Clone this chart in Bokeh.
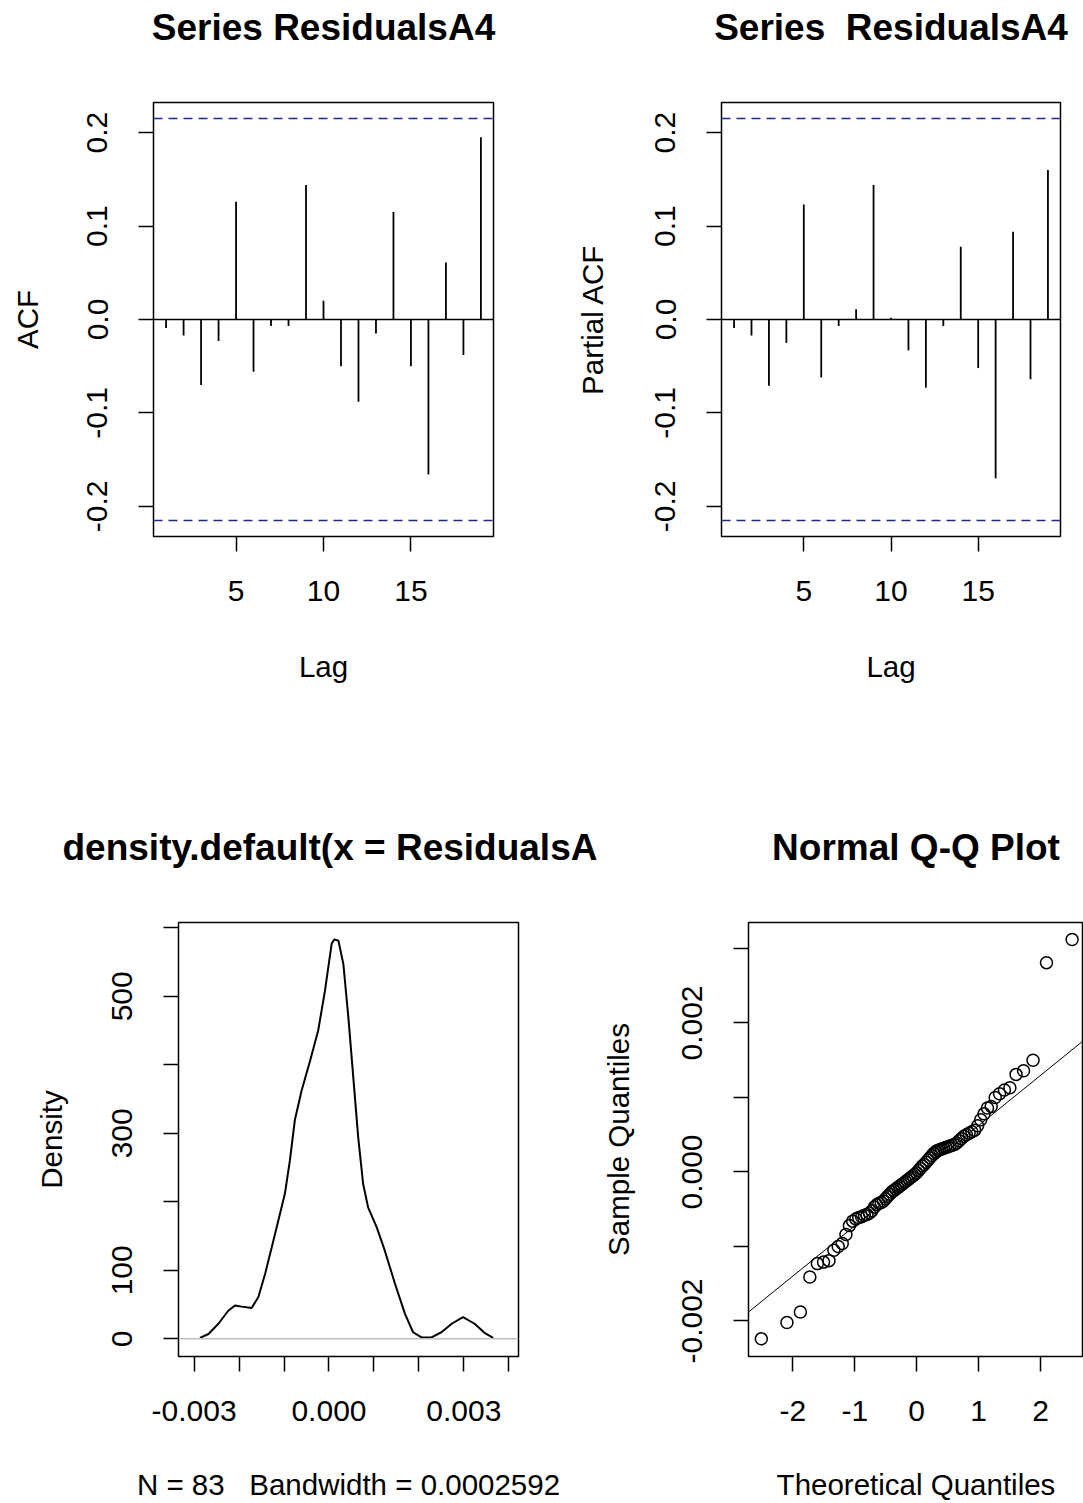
import math
from bokeh.plotting import figure
from bokeh.layouts import column, row
from bokeh.models import Range1d, FixedTicker, CustomJSTickFormatter, Span, Slope, LinearAxis
from bokeh.embed import file_html
from bokeh.resources import INLINE

FONT = "Liberation Sans"

# ---------------- data ----------------
lags = list(range(1, 20))
acf_vals = [-0.009, -0.017, -0.070, -0.023, 0.126, -0.056, -0.007, -0.007, 0.144, 0.020,
            -0.050, -0.088, -0.015, 0.115, -0.050, -0.166, 0.061, -0.038, 0.195]
pacf_vals = [-0.009, -0.017, -0.071, -0.025, 0.123, -0.062, -0.007, 0.011, 0.144, 0.002,
             -0.033, -0.073, -0.007, 0.078, -0.052, -0.170, 0.094, -0.064, 0.160]
ci_limit = 0.2151

dens_x = [-0.00287, -0.00268, -0.00246, -0.00224, -0.00209, -0.00194, -0.00172, -0.00157,
          -0.00142, -0.00120, -0.00098, -0.00087, -0.00076, -0.00061, -0.00042, -0.00024,
          -0.00009, 0.00006, 0.00012, 0.00021, 0.00032, 0.00043, 0.00054, 0.00065, 0.00076,
          0.00087, 0.00106, 0.00124, 0.00147, 0.00169, 0.00187, 0.00206, 0.00228, 0.00250,
          0.00273, 0.00298, 0.00324, 0.00347, 0.00365]
dens_y = [1.5, 7, 22, 41, 48.6, 47, 45, 61, 95, 153, 212, 260, 319, 362, 406, 450, 508, 577,
          583, 581, 547, 470, 382, 294, 226, 192, 163, 129, 80, 36.5, 9.6, 2, 2, 9.6, 22,
          31.6, 22, 8.3, 1.5]

theo_neg = [-2.510, -2.096, -1.879, -1.726, -1.605, -1.505, -1.417, -1.338, -1.268, -1.203,
            -1.143, -1.087, -1.034, -0.984, -0.936, -0.890, -0.846, -0.803, -0.762, -0.723,
            -0.684, -0.646, -0.610, -0.573, -0.538, -0.504, -0.470, -0.437, -0.404, -0.371,
            -0.339, -0.307, -0.276, -0.245, -0.214, -0.183, -0.152, -0.121, -0.091, -0.060,
            -0.030]
theo_q = theo_neg + [0.0] + [-v for v in reversed(theo_neg)]
sample_q = [-2.24, -2.02, -1.88, -1.41, -1.23, -1.21, -1.19, -1.05, -1.00, -0.96,
            -0.84, -0.72, -0.66, -0.63, -0.61, -0.60, -0.58, -0.57, -0.55, -0.52,
            -0.47, -0.44, -0.42, -0.41, -0.39, -0.36, -0.33, -0.30, -0.27, -0.25,
            -0.23, -0.21, -0.19, -0.17, -0.15, -0.13, -0.11, -0.09, -0.07, -0.05,
            -0.03, -0.01, 0.02, 0.05, 0.08, 0.10, 0.13, 0.16, 0.19, 0.22,
            0.25, 0.27, 0.29, 0.30, 0.31, 0.32, 0.33, 0.34, 0.35, 0.36,
            0.37, 0.39, 0.42, 0.45, 0.48, 0.50, 0.52, 0.54, 0.56, 0.62,
            0.70, 0.78, 0.86, 0.88, 1.00, 1.05, 1.10, 1.13, 1.31, 1.36,
            1.50, 2.81, 3.12]
sample_q = [v * 0.001 for v in sample_q]
qq_slope = 0.0006735
qq_intercept = -0.00005

acf_xticks = [5, 10, 15]
acf_yticks = [-0.2, -0.1, 0.0, 0.1, 0.2]
dens_xticks = [-0.003, -0.002, -0.001, 0.0, 0.001, 0.002, 0.003, 0.004]
dens_xlabels = [-0.003, 0.0, 0.003]
dens_yticks = [0, 100, 200, 300, 400, 500, 600]
dens_ylabels = [0, 100, 300, 500]
qq_xticks = [-2, -1, 0, 1, 2]
qq_yticks = [-0.002, -0.001, 0.0, 0.001, 0.002, 0.003]
qq_ylabels = [-0.002, 0.0, 0.002]

FMT_CODE = """
for (const v of show) { if (Math.abs(v - tick) < 1e-12) { return tick.toFixed(digits); } }
return "";
"""


def fmt(show, digits):
    return CustomJSTickFormatter(code=FMT_CODE, args=dict(show=show, digits=digits))


def make_fig(w, h, left, right, top, bottom, xr, yr, title, spacer,
             xlabel, ylabel, xlabel_standoff, ylabel_standoff, title_align="center",
             title_offset=0):
    p = figure(width=w, height=h, x_range=Range1d(*xr), y_range=Range1d(*yr),
               output_backend="svg", toolbar_location=None,
               min_border_left=left, min_border_right=right,
               min_border_top=top, min_border_bottom=bottom)
    xax = p.below[0]
    yax = p.left[0]
    p.outline_line_color = "black"
    p.outline_line_width = 1.5
    p.xgrid.visible = False
    p.ygrid.visible = False
    p.background_fill_color = "white"
    p.border_fill_color = "white"
    # empty spacer axis above the frame, so that the title sits higher
    sp = LinearAxis(ticker=FixedTicker(ticks=[]), axis_line_color=None,
                    major_tick_out=0, major_tick_in=0, major_label_standoff=0,
                    minor_tick_line_color=None, major_tick_line_color=None,
                    axis_label="\u00a0", axis_label_text_font_size="1px",
                    axis_label_standoff=spacer)
    p.add_layout(sp, "above")
    p.title.text = title
    p.title.text_font = FONT
    p.title.text_font_size = "37px"
    p.title.text_font_style = "bold"
    p.title.text_color = "black"
    p.title.align = title_align
    p.title.offset = title_offset
    p.title.standoff = 0
    p.title.vertical_align = "bottom"
    for ax in (xax, yax):
        ax.axis_line_color = None
        ax.major_tick_in = 0
        ax.major_tick_out = 15
        ax.major_tick_line_color = "black"
        ax.major_tick_line_width = 1.5
        ax.minor_tick_line_color = None
        ax.major_label_text_font = FONT
        ax.major_label_text_font_size = "30px"
        ax.major_label_text_color = "black"
        ax.axis_label_text_font = FONT
        ax.axis_label_text_font_size = "29.5px"
        ax.axis_label_text_font_style = "normal"
        ax.axis_label_text_color = "black"
    xax.axis_label = xlabel
    yax.axis_label = ylabel
    xax.major_label_standoff = 29
    xax.axis_label_standoff = xlabel_standoff
    yax.major_label_standoff = 31
    yax.axis_label_standoff = ylabel_standoff
    yax.major_label_orientation = "vertical"
    return p, xax, yax


def corr_fig(w, left, right, vals, title, ylabel, ylabel_standoff):
    p, xax, yax = make_fig(w, 820, left, right, 102, 284, (0.28, 19.72), (-0.2323, 0.2323),
                           title, 51, "Lag", ylabel, 46, ylabel_standoff)
    xax.ticker = FixedTicker(ticks=acf_xticks)
    yax.ticker = FixedTicker(ticks=acf_yticks)
    yax.formatter = fmt(acf_yticks, 1)
    p.add_layout(Span(location=0, dimension="width", line_color="black", line_width=1.5))
    for c in (ci_limit, -ci_limit):
        p.add_layout(Span(location=c, dimension="width", line_color="#26268c",
                          line_width=1.6, line_dash="9 6"))
    p.segment(x0=lags, y0=[0] * len(lags), x1=lags, y1=vals, line_color="black", line_width=1.8)
    return p


p1 = corr_fig(568, 153, 75, acf_vals, "Series ResidualsA4", "ACF", 41)
p2 = corr_fig(515, 153, 23, pacf_vals, "Series \u00a0ResidualsA4", "Partial ACF", 44)

# density
p3, x3, y3 = make_fig(598, 683, 178, 80, 102, 147, (-0.003347, 0.004215), (-25.8, 607.7),
                      "density.default(x = ResidualsA", 51,
                      "N = 83 \u00a0 Bandwidth = 0.0002592", "Density", 44, 42,
                      title_align="left", title_offset=-116)
x3.ticker = FixedTicker(ticks=dens_xticks)
x3.formatter = fmt(dens_xlabels, 3)
y3.ticker = FixedTicker(ticks=dens_yticks)
y3.formatter = fmt(dens_ylabels, 0)
p3.add_layout(Span(location=0, dimension="width", line_color="#bebebe", line_width=1.5))
p3.line(dens_x, dens_y, line_color="black", line_width=2)

# QQ
p4, x4, y4 = make_fig(485, 683, 149, 0, 102, 147, (-2.717, 2.694), (-0.002477, 0.003349),
                      "Normal Q-Q Plot", 51, "Theoretical Quantiles",
                      "Sample Quantiles", 44, 45)
x4.ticker = FixedTicker(ticks=qq_xticks)
x4.formatter = fmt(qq_xticks, 0)
y4.ticker = FixedTicker(ticks=qq_yticks)
y4.formatter = fmt(qq_ylabels, 3)
p4.add_layout(Slope(gradient=qq_slope, y_intercept=qq_intercept, line_color="black", line_width=1))
p4.scatter(theo_q, sample_q, size=12, marker="circle", fill_color=None,
           line_color="black", line_width=1.5)

layout = column(row(p1, p2), row(p3, p4))
open("out.html", "w").write(file_html(layout, INLINE))
